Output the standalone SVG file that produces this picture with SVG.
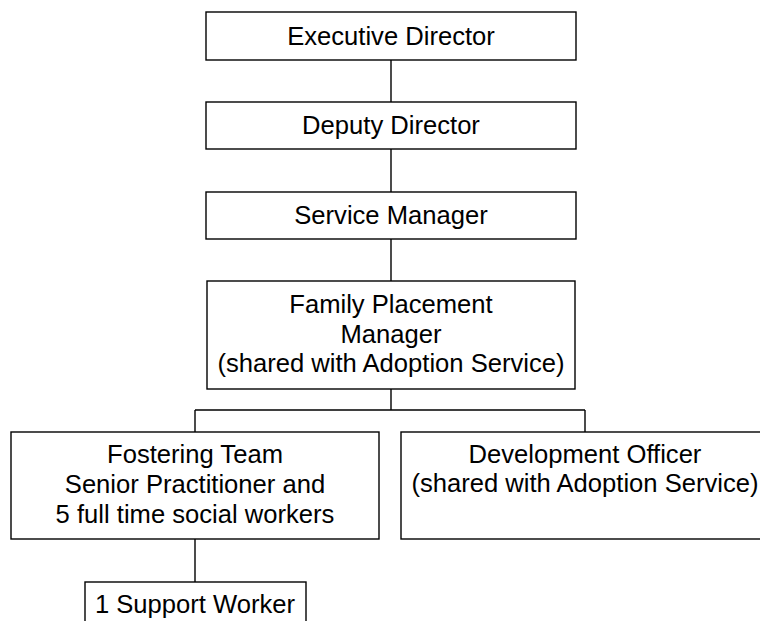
<svg xmlns="http://www.w3.org/2000/svg" width="760" height="621" viewBox="0 0 760 621">
<style>
.box{fill:#fff;stroke:#000;stroke-width:1.4}
.ln{stroke:#000;stroke-width:1.4;fill:none}
text{font-family:"Liberation Sans",Arial,sans-serif;font-size:25.6px;fill:#000;text-anchor:middle}
</style>
<rect width="760" height="621" fill="#fff"/>
<g id="connectors">
<path class="ln" d="M391 60V102M391 149V192M391 239V281M391 389V410M195 410H585M195 410V432M585 410V432M195 539V582"/>
</g>
<g id="executive-director"><rect class="box" x="206" y="12" width="370" height="48"/><text x="391" y="45">Executive Director</text></g>
<g id="deputy-director"><rect class="box" x="206" y="102" width="370" height="47"/><text x="391" y="134">Deputy Director</text></g>
<g id="service-manager"><rect class="box" x="206" y="192" width="370" height="47"/><text x="391" y="224">Service Manager</text></g>
<g id="family-placement-manager"><rect class="box" x="207" y="281" width="368" height="108"/><text x="391" y="313">Family Placement</text><text x="391" y="343">Manager</text><text x="391" y="372">(shared with Adoption Service)</text></g>
<g id="fostering-team"><rect class="box" x="11" y="432" width="368" height="107"/><text x="195" y="463">Fostering Team</text><text x="195" y="493">Senior Practitioner and</text><text x="195" y="523">5 full time social workers</text></g>
<g id="development-officer"><rect class="box" x="401" y="432" width="368" height="107"/><text x="585" y="463">Development Officer</text><text x="585" y="492">(shared with Adoption Service)</text></g>
<g id="support-worker"><rect class="box" x="85" y="582" width="221" height="48"/><text x="195" y="613">1 Support Worker</text></g>
</svg>
